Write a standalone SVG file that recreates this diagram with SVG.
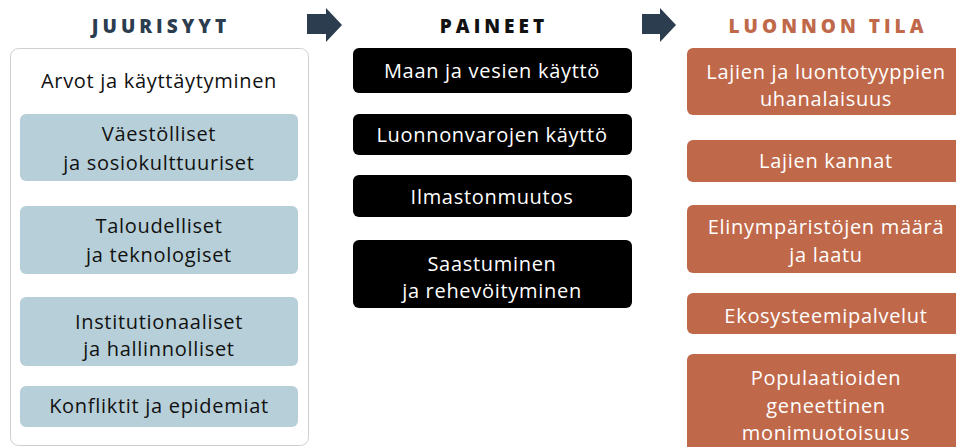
<svg xmlns="http://www.w3.org/2000/svg" width="956" height="447" viewBox="0 0 956 447">
<style>
text{font-family:"Open Sans","Noto Sans",sans-serif;text-anchor:middle;font-size:20px;letter-spacing:0.7px}
.hd{font-weight:800;font-size:19px;letter-spacing:4px}
.blue{fill:#b7cfd8}
.blk{fill:#000}
.org{fill:#c0694a}
.dt{fill:#111}
.wt{fill:#fff}
.arr{fill:#2b3d4f}
</style>
<rect width="956" height="447" fill="#fff"/>
<g id="headers">
<text class="hd" x="161" y="33" fill="#2b3d4f">JUURISYYT</text>
<text class="hd" x="494" y="33" fill="#111">PAINEET</text>
<text class="hd" x="828" y="33" fill="#c0694a">LUONNON TILA</text>
</g>
<g id="connectors">
<polygon class="arr" points="307,14 326,14 326,8 342,25 326,42 326,34 307,34"/>
<polygon class="arr" points="642,14 660,14 660,8 676,25 660,42 660,34 642,34"/>
</g>
<g id="juurisyyt">
<rect x="10.5" y="48.5" width="298" height="397" rx="8" fill="#fff" stroke="#cfcfcf"/>
<text class="dt" x="159" y="88">Arvot ja käyttäytyminen</text>
</g>
<g id="j1"><rect class="blue" x="20" y="114" width="278" height="67" rx="6"/><text class="dt" x="159" y="141">Väestölliset</text><text class="dt" x="159" y="170">ja sosiokulttuuriset</text></g>
<g id="j2"><rect class="blue" x="20" y="206" width="278" height="68" rx="6"/><text class="dt" x="159" y="233">Taloudelliset</text><text class="dt" x="159" y="262">ja teknologiset</text></g>
<g id="j3"><rect class="blue" x="20" y="297" width="278" height="69" rx="6"/><text class="dt" x="159" y="329">Institutionaaliset</text><text class="dt" x="159" y="356">ja hallinnolliset</text></g>
<g id="j4"><rect class="blue" x="20" y="386" width="278" height="41" rx="6"/><text class="dt" x="159" y="413">Konfliktit ja epidemiat</text></g>
<g id="p1"><rect class="blk" x="353" y="48" width="279" height="45" rx="6"/><text class="wt" x="492" y="78">Maan ja vesien käyttö</text></g>
<g id="p2"><rect class="blk" x="353" y="114" width="279" height="41" rx="6"/><text class="wt" x="492" y="142">Luonnonvarojen käyttö</text></g>
<g id="p3"><rect class="blk" x="353" y="175" width="279" height="42" rx="6"/><text class="wt" x="492" y="204">Ilmastonmuutos</text></g>
<g id="p4"><rect class="blk" x="353" y="240" width="279" height="68" rx="6"/><text class="wt" x="492" y="271">Saastuminen</text><text class="wt" x="492" y="298">ja rehevöityminen</text></g>
<g id="l1"><rect class="org" x="687" y="48" width="280" height="67" rx="6"/><text class="wt" x="826" y="79">Lajien ja luontotyyppien</text><text class="wt" x="826" y="106">uhanalaisuus</text></g>
<g id="l2"><rect class="org" x="687" y="140" width="280" height="42" rx="6"/><text class="wt" x="826" y="168">Lajien kannat</text></g>
<g id="l3"><rect class="org" x="687" y="205" width="280" height="68" rx="6"/><text class="wt" x="826" y="234">Elinympäristöjen määrä</text><text class="wt" x="826" y="262">ja laatu</text></g>
<g id="l4"><rect class="org" x="687" y="293" width="280" height="41" rx="6"/><text class="wt" x="826" y="323">Ekosysteemipalvelut</text></g>
<g id="l5"><rect class="org" x="687" y="354" width="280" height="110" rx="6"/><text class="wt" x="826" y="385">Populaatioiden</text><text class="wt" x="826" y="413">geneettinen</text><text class="wt" x="826" y="440">monimuotoisuus</text></g>
</svg>
